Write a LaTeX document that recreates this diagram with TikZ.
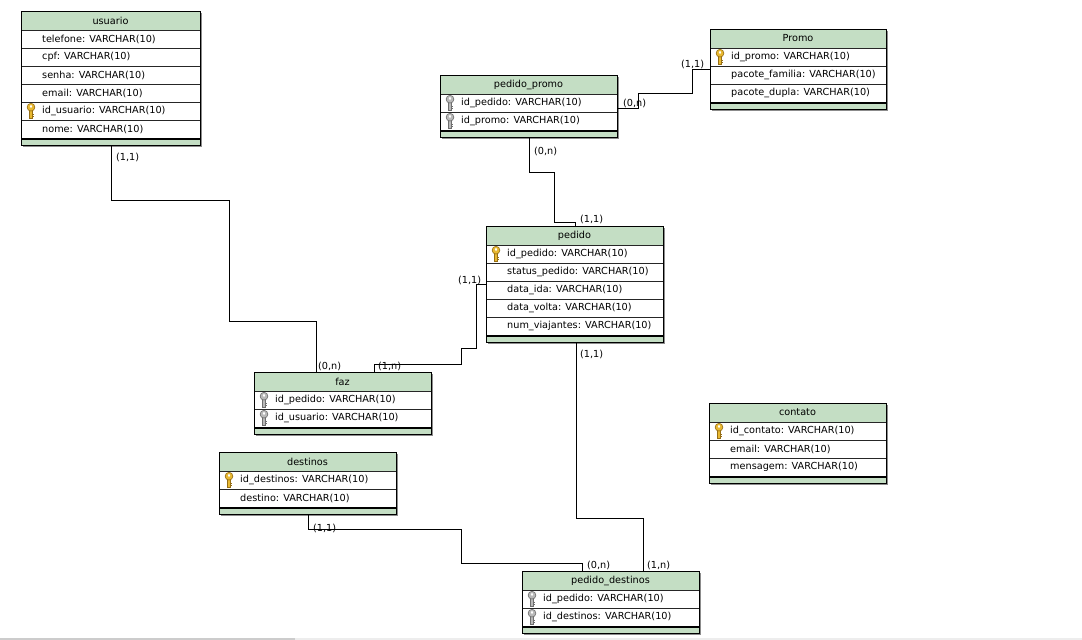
\documentclass[tikz,border=0pt]{standalone}
\usepackage{fontspec}
\setmainfont{DejaVu Sans}
\definecolor{hdr}{RGB}{196,222,196}
\definecolor{keygold}{RGB}{232,184,48}
\definecolor{keygoldd}{RGB}{150,110,20}
\definecolor{keygray}{RGB}{185,185,185}
\definecolor{keygrayd}{RGB}{110,110,110}
\tikzset{
  txt/.style={font=\fontsize{9.7}{11}\selectfont, inner sep=0pt, anchor=west, text=black},
  ttl/.style={font=\fontsize{9.7}{11}\selectfont, inner sep=0pt, text=black},
  card/.style={font=\fontsize{9.7}{11}\selectfont, inner sep=0pt, anchor=west, text=black},
  conn/.style={draw=black, line width=0.9pt},
  tbl/.style={draw=black, line width=0.9pt, inner sep=0pt, outer sep=0pt, anchor=north west},
}
\newcommand{\erkey}[4]{%
  \begin{scope}[shift={(#1,#2)}]
    \filldraw[fill=#3, draw=#4, line width=0.6pt] (8.6,8) rectangle (11.4,16.5);
    \draw[#4, line width=0.6pt] (11.4,12) -- (12.6,12) (11.4,14.5) -- (12.6,14.5);
    \filldraw[fill=#3, draw=#4, line width=0.6pt] (10,5.2) circle[radius=3.9pt];
    \fill[white] (10,4.4) ellipse[x radius=1.2pt, y radius=1.7pt];
  \end{scope}}
\newcommand{\ertable}[7]{%
  \pgfmathsetmacro{\Ht}{19+18*#6+7}
  \pgfmathsetmacro{\Rt}{#2+#4}
  \pgfmathsetmacro{\Bt}{#3+\Ht}
  \pgfmathsetmacro{\Ft}{#3+19+18*#6}
  \fill[black!45] (#2+2,#3+2) rectangle (\Rt+2,\Bt+2);
  \node[tbl, fill=white, minimum width=#4pt, minimum height=\Ht pt] (#1) at (#2,#3) {};
  \fill[hdr] (#2,#3) rectangle (\Rt,#3+19);
  \fill[hdr] (#2,\Ft) rectangle (\Rt,\Bt);
  \node[ttl] (#1-title) at (#2+#4/2,#3+9.5) {#5};
  \foreach \k/\s [count=\i from 0] in {#7} {
    \pgfmathsetmacro{\ry}{#3+19+18*\i}
    \draw[black!85, line width=0.7pt] (#2,\ry) -- (\Rt,\ry);
    \node[txt] at (#2+21,\ry+9) {\s};
    \ifnum\k=1 \erkey{#2}{\ry}{keygold}{keygoldd}\fi
    \ifnum\k=2 \erkey{#2}{\ry}{keygray}{keygrayd}\fi
  }
  \draw[black, line width=2pt] (#2,\Ft+1) -- (\Rt,\Ft+1);
  \draw[black, line width=0.9pt] (#1.north west) rectangle (#1.south east);
}
\begin{document}
\begin{tikzpicture}[x=1pt, y=-1pt]
\useasboundingbox (0,0) rectangle (1082,640);
\fill[white] (0,0) rectangle (1082,640);
\fill[black!20] (0,637.5) rectangle (295,640);
\fill[black!7] (295,637.5) rectangle (1082,640);

\ertable{usuario}{21}{11}{179}{usuario}{6}{0/telefone: VARCHAR(10), 0/cpf: VARCHAR(10), 0/senha: VARCHAR(10), 0/email: VARCHAR(10), 1/id\_usuario: VARCHAR(10), 0/nome: VARCHAR(10)}
\ertable{promo}{710}{29}{176}{Promo}{3}{1/id\_promo: VARCHAR(10), 0/pacote\_familia: VARCHAR(10), 0/pacote\_dupla: VARCHAR(10)}
\ertable{pedidopromo}{440}{75}{177}{pedido\_promo}{2}{2/id\_pedido: VARCHAR(10), 2/id\_promo: VARCHAR(10)}
\ertable{pedido}{486}{226}{177}{pedido}{5}{1/id\_pedido: VARCHAR(10), 0/status\_pedido: VARCHAR(10), 0/data\_ida: VARCHAR(10), 0/data\_volta: VARCHAR(10), 0/num\_viajantes: VARCHAR(10)}
\ertable{faz}{254}{372}{177}{faz}{2}{2/id\_pedido: VARCHAR(10), 2/id\_usuario: VARCHAR(10)}
\ertable{destinos}{219}{452}{177}{destinos}{2}{1/id\_destinos: VARCHAR(10), 0/destino: VARCHAR(10)}
\ertable{contato}{709}{403}{177}{contato}{3}{1/id\_contato: VARCHAR(10), 0/email: VARCHAR(10), 0/mensagem: VARCHAR(10)}
\ertable{pedidodestinos}{522}{571}{177}{pedido\_destinos}{2}{2/id\_pedido: VARCHAR(10), 2/id\_destinos: VARCHAR(10)}

% connectors
\draw[conn] ([xshift=90pt]usuario.south west) |- (229,200) |- (316,321) -- ([xshift=62pt]faz.north west);
\draw[conn] ([xshift=120pt]faz.north west) |- (461,364) |- (476,348) |- (pedido.west);
\draw[conn] ([xshift=90pt]pedido.south west) |- (643,518) -- ([xshift=121pt]pedidodestinos.north west);
\draw[conn] ([xshift=89pt]destinos.south west) |- (461,529) |- (582,563) -- ([xshift=60pt]pedidodestinos.north west);
\draw[conn] ([xshift=89pt]pedidopromo.south west) |- (554,172) |- (575,222) -- ([xshift=89pt]pedido.north west);
\draw[conn] ([yshift=-2pt]pedidopromo.east) -| (638,93) -| (692,69) -- (promo.west);

% cardinalities
\node[card] (c1a) at (116,157) {(1,1)};
\node[card] (c1b) at (318,366) {(0,n)};
\node[card] (c2a) at (378,366) {(1,n)};
\node[card] (c2b) at (458,280) {(1,1)};
\node[card] (c3a) at (580,354) {(1,1)};
\node[card] (c3b) at (647,565) {(1,n)};
\node[card] (c4a) at (313,528) {(1,1)};
\node[card] (c4b) at (587,565) {(0,n)};
\node[card] (c5a) at (534,151) {(0,n)};
\node[card] (c5b) at (580,219) {(1,1)};
\node[card] (c6a) at (623,103) {(0,n)};
\node[card] (c6b) at (681,64) {(1,1)};
\end{tikzpicture}
\end{document}
